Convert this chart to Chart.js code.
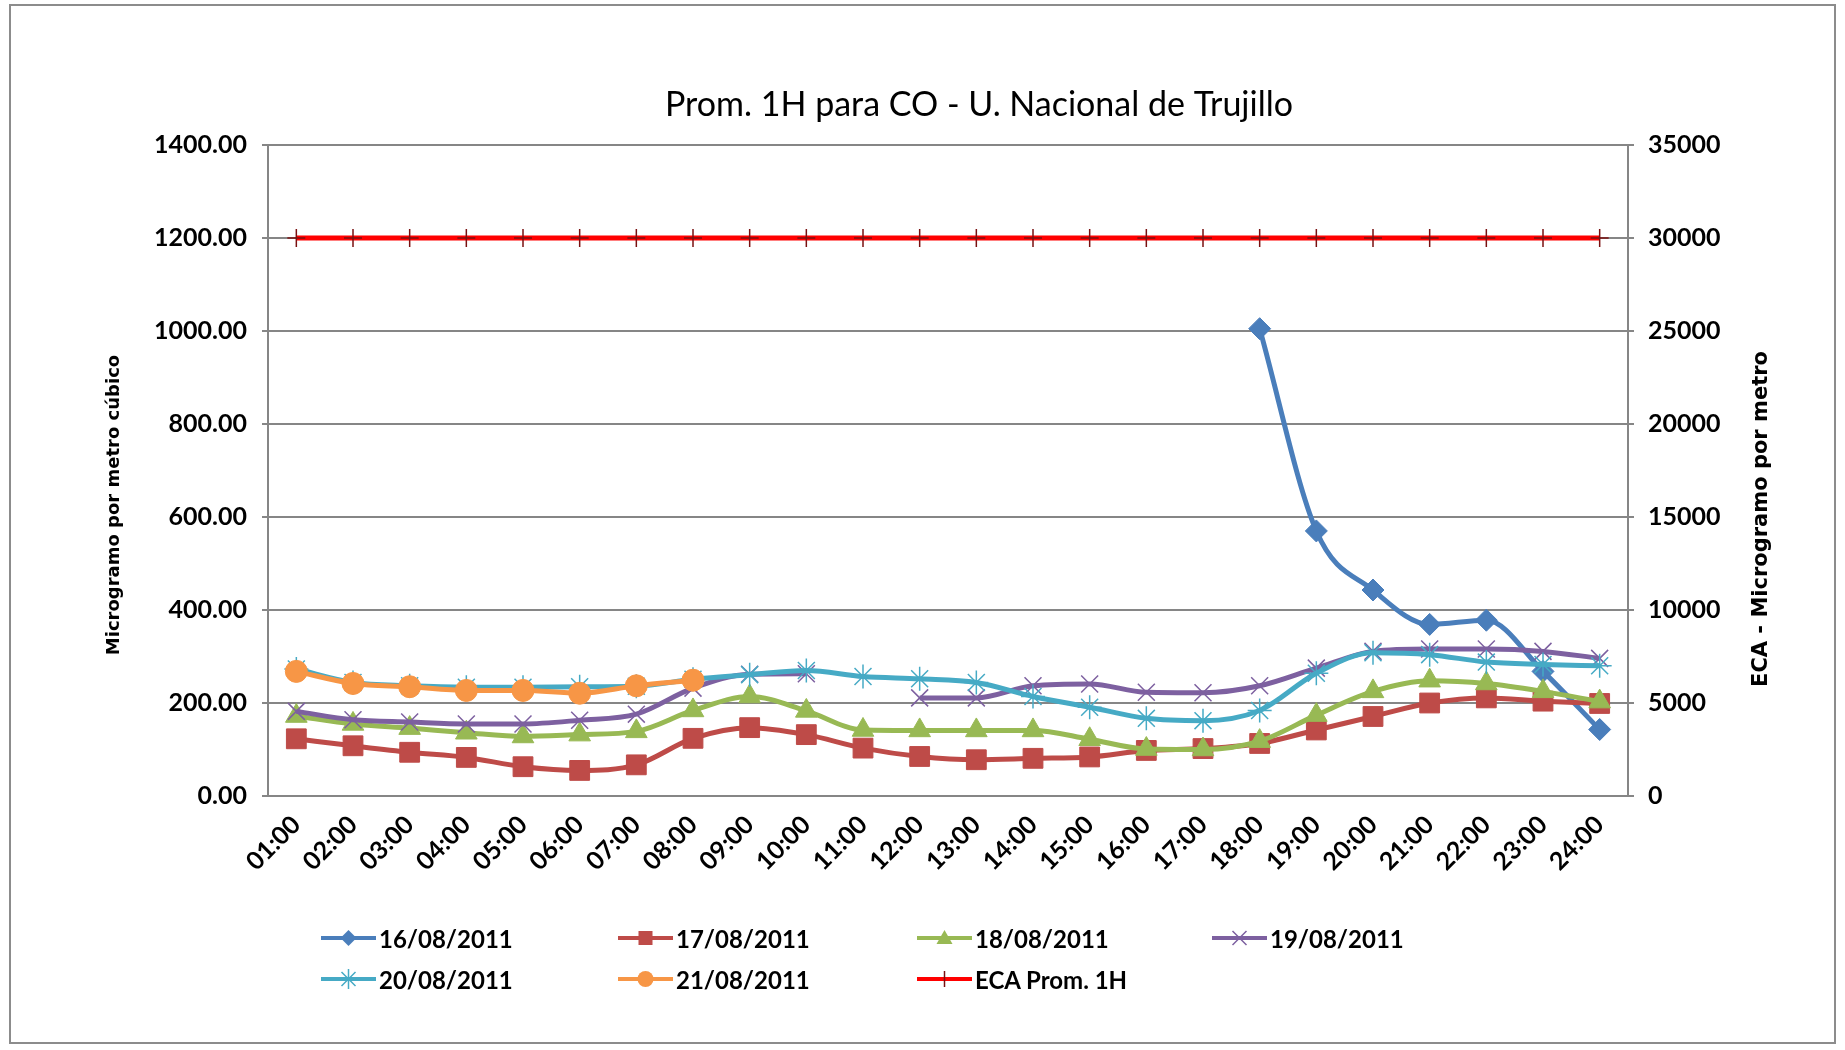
<!DOCTYPE html>
<html lang="es">
<head>
<meta charset="UTF-8">
<title>Prom. 1H para CO - U. Nacional de Trujillo</title>
<script src="https://cdn.jsdelivr.net/npm/chart.js@4"></script>
<style>
  body { margin: 0; background: #fff; }
  #wrap { position: relative; width: 1845px; height: 1050px; overflow: hidden; }
  #frame { position: absolute; left: 9px; top: 4px; width: 1827px; height: 1040px; border: 2px solid #8c8c8c; box-sizing: border-box; }
  canvas { position: absolute; left: 0; top: 0; }
  .item { position: absolute; display: flex; align-items: center; height: 30px; font: bold 24px Lato, sans-serif; color: #000; white-space: nowrap; }
  .item svg { margin-right: 3px; }
</style>
</head>
<body>
<div id="wrap">
  <div id="frame"></div>
  <canvas id="myChart" width="1845" height="1050"></canvas>
  <div id="legend"></div>
</div>
<script>
const hours = ['01:00', '02:00', '03:00', '04:00', '05:00', '06:00', '07:00', '08:00', '09:00', '10:00', '11:00', '12:00',
               '13:00', '14:00', '15:00', '16:00', '17:00', '18:00', '19:00', '20:00', '21:00', '22:00', '23:00', '24:00'];

const day16 = [null, null, null, null, null, null, null, null, null, null, null, null,
               null, null, null, null, null, 1005, 570, 443, 369, 378, 268, 143];
const day17 = [123, 108, 94, 83, 63, 55, 67, 124, 147, 132, 103, 85,
               78, 81, 84, 98, 102, 113, 142, 171, 200, 211, 204, 199];
const day18 = [172, 155, 146, 136, 128, 132, 139, 184, 214, 183, 142, 141,
               141, 141, 122, 101, 100, 118, 174, 225, 248, 242, 225, 203];
const day19 = [182, 164, 159, 155, 155, 163, 176, 232, 262, 263, null, 211,
               211, 237, 241, 223, 222, 237, 275, 311, 316, 316, 311, 296];
const day20 = [273, 244, 237, 234, 234, 235, 236, 251, 261, 270, 257, 252,
               244, 214, 191, 167, 162, 184, 264, 308, 304, 288, 283, 280];
const day21 = [268, 242, 235, 227, 227, 221, 237, 249, null, null, null, null,
               null, null, null, null, null, null, null, null, null, null, null, null];
const ecaLimit = [30000, 30000, 30000, 30000, 30000, 30000, 30000, 30000, 30000, 30000, 30000, 30000,
                  30000, 30000, 30000, 30000, 30000, 30000, 30000, 30000, 30000, 30000, 30000, 30000];

const leftTicks = [0, 200, 400, 600, 800, 1000, 1200, 1400];
const rightTicks = [0, 5000, 10000, 15000, 20000, 25000, 30000, 35000];

const chartTitle = 'Prom. 1H para CO - U. Nacional de Trujillo';
const leftTitle = 'Microgramo por metro cúbico';
const rightTitle = 'ECA - Microgramo por metro';

const gridGray = '#868686';
const tickFont = { family: 'Lato', weight: 'bold', size: 25 };

function series(label, data, color, style, radius, extra) {
    return Object.assign({
        label: label,
        data: data,
        borderColor: color,
        backgroundColor: color,
        pointBackgroundColor: color,
        pointBorderColor: color,
        pointStyle: style,
        pointRadius: radius,
        pointBorderWidth: 1,
        borderWidth: 5,
        cubicInterpolationMode: 'monotone',
        spanGaps: false,
        yAxisID: 'y'
    }, extra || {});
}

const datasets = [
    series('16/08/2011', day16, '#4A7EBB', 'rectRot', 11, { order: 6 }),
    series('17/08/2011', day17, '#BE4B48', 'rect', 14, { order: 5 }),
    series('18/08/2011', day18, '#98B954', 'triangle', 12.5, { order: 4 }),
    series('19/08/2011', day19, '#7D60A0', 'crossRot', 12, { order: 3, pointBorderWidth: 1.5 }),
    series('20/08/2011', day20, '#46AAC5', 'star', 12, { order: 2, pointBorderWidth: 1.5 }),
    series('21/08/2011', day21, '#F79646', 'circle', 11, { order: 1 }),
    series('ECA Prom. 1H', ecaLimit, '#FF0000', 'cross', 9,
           { order: 0, yAxisID: 'y1', borderWidth: 5, pointBorderColor: '#7a1010', pointBorderWidth: 1.5 })
];

// titles drawn on the canvas (right axis title reads bottom-to-top like the left one)
const titlesPlugin = {
    id: 'titles',
    afterDraw(chart) {
        const ctx = chart.ctx;
        const area = chart.chartArea;
        ctx.save();
        ctx.fillStyle = '#000';
        ctx.textAlign = 'center';
        ctx.textBaseline = 'middle';
        ctx.font = '34px Lato';
        ctx.fillText(chartTitle, (area.left + area.right) / 2 + 31, 105);

        ctx.font = 'bold 18px "DejaVu Sans"';
        ctx.save();
        ctx.translate(114, 505);
        ctx.rotate(-Math.PI / 2);
        ctx.fillText(leftTitle, 0, 0);
        ctx.restore();

        ctx.font = 'bold 21px "DejaVu Sans"';
        ctx.translate(1762, 519);
        ctx.rotate(-Math.PI / 2);
        ctx.fillText(rightTitle, 0, 0);
        ctx.restore();
    }
};

const ctx = document.getElementById('myChart').getContext('2d');
const myChart = new Chart(ctx, {
    type: 'line',
    data: { labels: hours, datasets: datasets },
    plugins: [titlesPlugin],
    options: {
        responsive: false,
        animation: false,
        devicePixelRatio: 1,
        layout: { padding: { top: 145, left: 0, right: 0, bottom: 0 } },
        plugins: {
            legend: { display: false },
            title: { display: false },
            tooltip: { enabled: false }
        },
        scales: {
            x: {
                offset: true,
                grid: { display: true, drawOnChartArea: false, drawTicks: false, color: gridGray },
                border: { color: gridGray, width: 2 },
                ticks: { autoSkip: false, minRotation: 45, maxRotation: 45, padding: 14, color: '#000', font: tickFont },
                afterFit(scale) { scale.height = 254; }
            },
            y: {
                position: 'left',
                min: leftTicks[0],
                max: leftTicks[leftTicks.length - 1],
                afterBuildTicks(scale) { scale.ticks = leftTicks.map(v => ({ value: v })); },
                ticks: { callback: v => v.toFixed(2), padding: 15, color: '#000', font: tickFont },
                grid: { color: gridGray, lineWidth: 2, tickLength: 6 },
                border: { color: gridGray, width: 2 },
                afterFit(scale) { scale.width = 268; }
            },
            y1: {
                position: 'right',
                min: rightTicks[0],
                max: rightTicks[rightTicks.length - 1],
                afterBuildTicks(scale) { scale.ticks = rightTicks.map(v => ({ value: v })); },
                ticks: { callback: v => String(v), padding: 14, color: '#000', font: tickFont },
                grid: { drawOnChartArea: false, color: gridGray, lineWidth: 2, tickLength: 6 },
                border: { color: gridGray, width: 2 },
                afterFit(scale) { scale.width = 217; }
            }
        }
    }
});

// legend as html, two rows of four columns like the excel one
function markerSvg(ds) {
    const c = 27.5, m = 15, col = ds.borderColor, mk = ds.pointBorderColor;
    let shape = '';
    switch (ds.pointStyle) {
        case 'rectRot':
            shape = `<polygon points="${c},${m - 8} ${c + 8},${m} ${c},${m + 8} ${c - 8},${m}" fill="${col}"/>`; break;
        case 'rect':
            shape = `<rect x="${c - 7}" y="${m - 7}" width="14" height="14" fill="${col}"/>`; break;
        case 'triangle':
            shape = `<polygon points="${c},${m - 8} ${c + 8},${m + 6} ${c - 8},${m + 6}" fill="${col}"/>`; break;
        case 'crossRot':
            shape = `<path d="M${c - 7} ${m - 7}L${c + 7} ${m + 7}M${c + 7} ${m - 7}L${c - 7} ${m + 7}" stroke="${col}" stroke-width="1.5"/>`; break;
        case 'star':
            shape = `<path d="M${c - 7} ${m - 7}L${c + 7} ${m + 7}M${c + 7} ${m - 7}L${c - 7} ${m + 7}M${c} ${m - 10}L${c} ${m + 10}" stroke="${col}" stroke-width="1.5"/>`; break;
        case 'circle':
            shape = `<circle cx="${c}" cy="${m}" r="8" fill="${col}"/>`; break;
        case 'cross':
            shape = `<path d="M${c} ${m - 8}L${c} ${m + 8}" stroke="${mk}" stroke-width="1.5"/>`; break;
    }
    return `<svg width="55" height="30"><line x1="0" y1="${m}" x2="55" y2="${m}" stroke="${col}" stroke-width="4"/>${shape}</svg>`;
}

const legendCols = [321, 618, 917, 1212];
const legendRows = [938, 979];
const legendBox = document.getElementById('legend');
myChart.data.datasets.forEach((ds, i) => {
    const el = document.createElement('div');
    el.className = 'item';
    el.style.left = legendCols[i % 4] + 'px';
    el.style.top = (legendRows[Math.floor(i / 4)] - 15) + 'px';
    el.innerHTML = markerSvg(ds) + '<span>' + ds.label + '</span>';
    legendBox.appendChild(el);
});
</script>
</body>
</html>
